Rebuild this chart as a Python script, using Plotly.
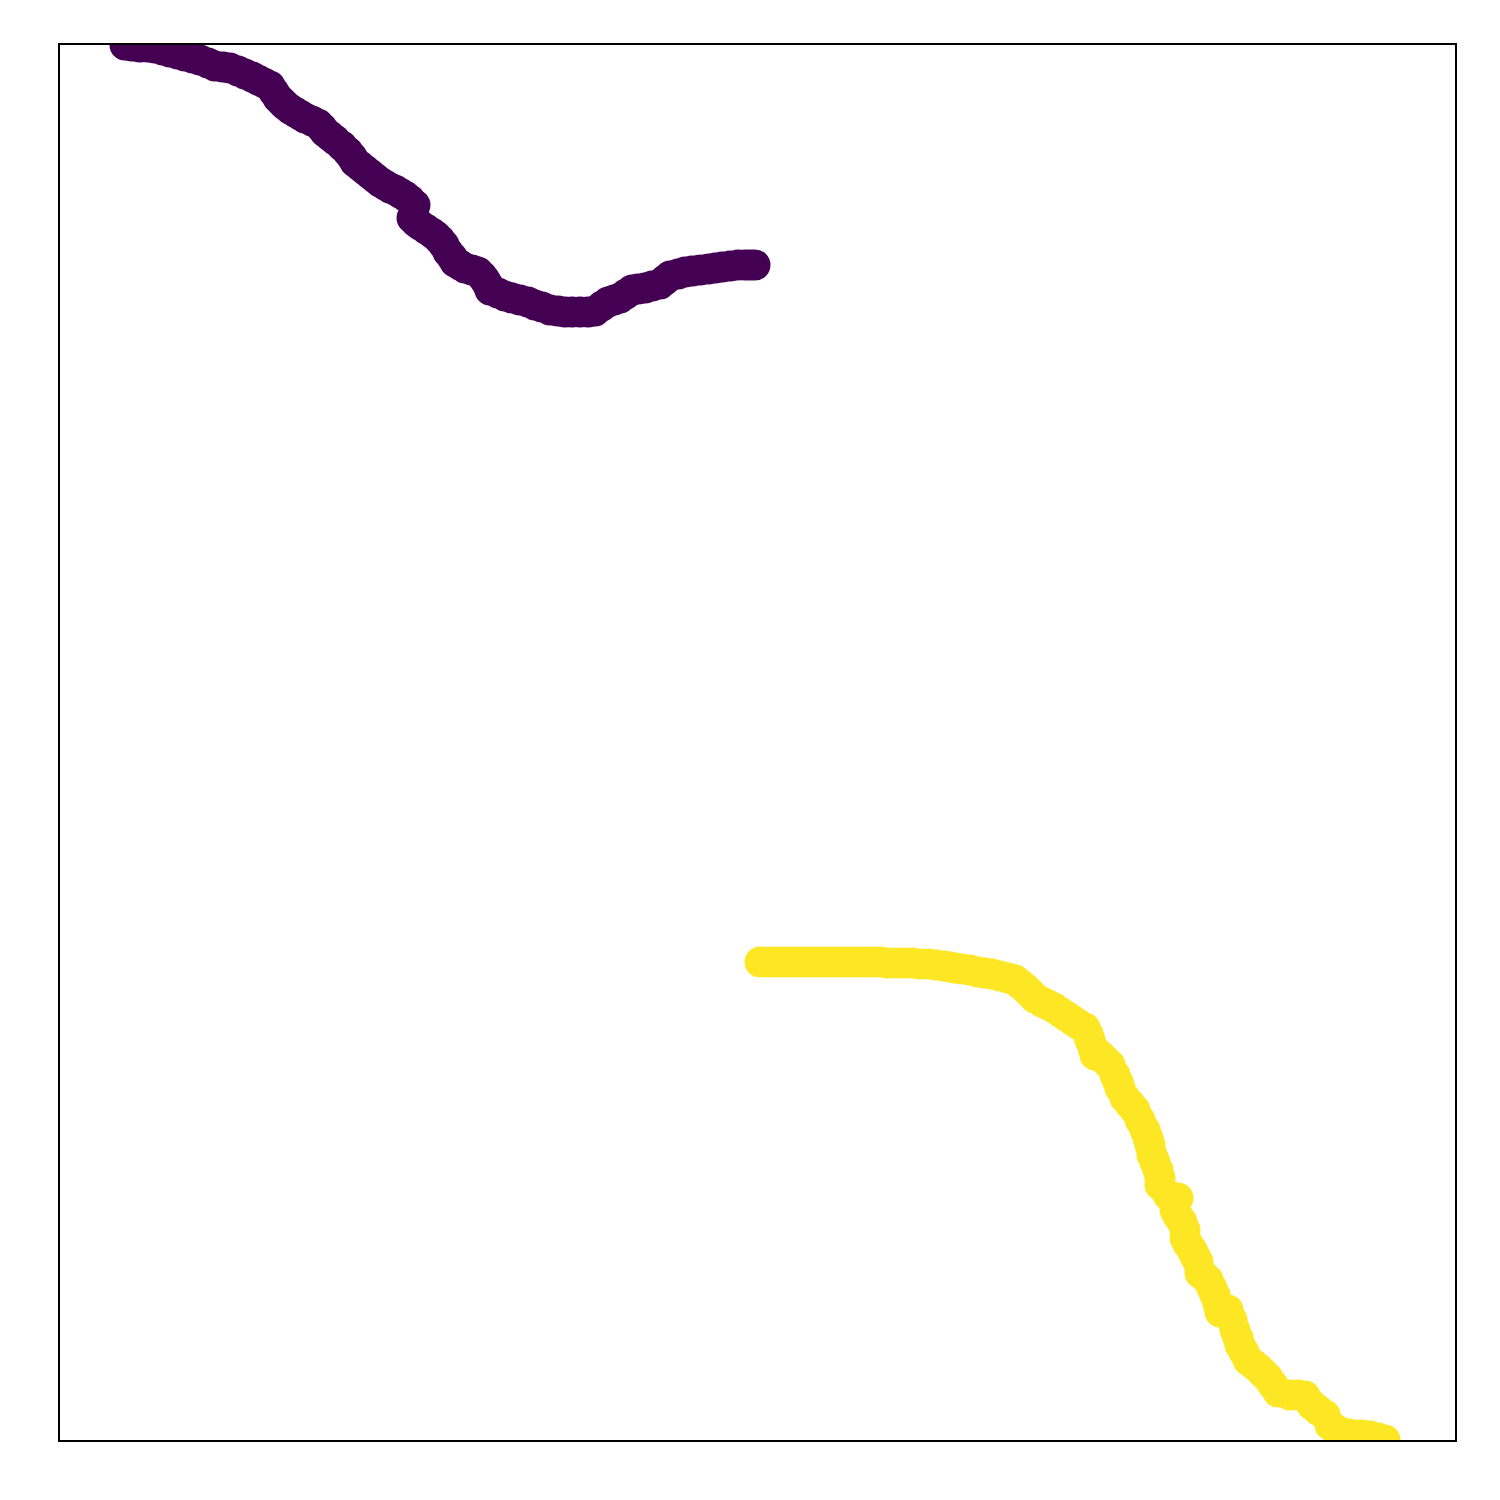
import plotly.graph_objects as go

# Cluster 0 (purple) sample positions in data units (10 values per row, rows aligned)
x0 = [65, 72, 80, 88, 95, 103, 110, 118, 125, 133,
      140, 148, 155, 163, 170, 178, 185, 192, 198, 204,
      210, 214, 218, 222, 225, 230, 235, 240, 245, 252,
      258, 262, 265, 270, 275, 282, 288, 292, 295, 300,
      305, 310, 315, 320, 325, 330, 335, 340, 345, 350,
      355, 352, 356, 360, 366, 372, 376, 380, 384, 388,
      392, 395, 400, 405, 412, 418, 422, 425, 428, 430,
      438, 445, 452, 460, 468, 475, 482, 490, 498, 505,
      512, 520, 528, 535, 542, 548, 554, 560, 566, 572,
      578, 585, 592, 600, 605, 610, 618, 625, 632, 640,
      648, 655, 662, 670, 678, 685, 690, 695]
y0 = [1395, 1394, 1393, 1393, 1392, 1390, 1388, 1386, 1384, 1382,
      1380, 1377, 1374, 1373, 1372, 1369, 1366, 1363, 1360, 1357,
      1354, 1348, 1342, 1338, 1335, 1331, 1328, 1325, 1322, 1319,
      1316, 1312, 1308, 1304, 1300, 1294, 1288, 1283, 1278, 1274,
      1270, 1266, 1262, 1258, 1255, 1252, 1250, 1247, 1244, 1240,
      1235, 1222, 1218, 1215, 1211, 1207, 1204, 1200, 1195, 1188,
      1183, 1178, 1175, 1172, 1170, 1168, 1164, 1160, 1155, 1150,
      1147, 1144, 1142, 1140, 1138, 1135, 1133, 1130, 1129, 1128,
      1128, 1128, 1128, 1129, 1134, 1138, 1140, 1142, 1146, 1150,
      1151, 1152, 1154, 1156, 1160, 1164, 1166, 1168, 1169, 1170,
      1171, 1172, 1173, 1174, 1175, 1175, 1175, 1175]

# Cluster 1 (yellow) sample positions in data units (10 values per row, rows aligned)
x1 = [700, 708, 716, 724, 732, 740, 748, 756, 764, 772,
      780, 788, 796, 804, 812, 820, 828, 836, 844, 852,
      860, 868, 876, 884, 890, 895, 902, 910, 918, 925,
      932, 940, 948, 955, 960, 965, 970, 975, 982, 988,
      994, 1000, 1006, 1012, 1018, 1025, 1028, 1030, 1033, 1035,
      1040, 1045, 1050, 1055, 1058, 1060, 1065, 1070, 1075, 1080,
      1085, 1088, 1090, 1092, 1095, 1098, 1100, 1100, 1108, 1118,
      1115, 1118, 1122, 1125, 1125, 1128, 1132, 1135, 1138, 1140,
      1144, 1148, 1152, 1155, 1158, 1160, 1168, 1172, 1175, 1178,
      1180, 1184, 1188, 1193, 1198, 1203, 1208, 1213, 1218, 1230,
      1238, 1245, 1252, 1258, 1265, 1270, 1275, 1280, 1288, 1295,
      1302, 1310, 1318, 1325]
y1 = [478, 478, 478, 478, 478, 478, 478, 478, 478, 478,
      478, 478, 478, 478, 478, 478, 477, 477, 477, 477,
      476, 476, 475, 474, 473, 472, 471, 470, 468, 467,
      466, 464, 462, 460, 456, 452, 447, 442, 438, 435,
      432, 428, 424, 420, 416, 412, 406, 400, 392, 385,
      385, 380, 375, 365, 358, 352, 342, 336, 330, 320,
      310, 302, 295, 285, 278, 270, 262, 255, 245, 242,
      230, 224, 218, 210, 202, 196, 190, 184, 178, 167,
      164, 160, 152, 145, 136, 128, 130, 120, 110, 102,
      95, 88, 80, 76, 72, 67, 62, 55, 48, 45,
      45, 44, 35, 30, 25, 15, 11, 8, 6, 5,
      5, 4, 2, 0]

fig = go.Figure()
fig.add_trace(go.Scatter(x=x0, y=y0, mode="markers",
                         marker=dict(size=31, color="#440154", line=dict(width=0)),
                         showlegend=False))
fig.add_trace(go.Scatter(x=x1, y=y1, mode="markers",
                         marker=dict(size=31, color="#fde725", line=dict(width=0)),
                         showlegend=False))

axis_style = dict(showgrid=False, zeroline=False, showticklabels=False, ticks="",
                  showline=True, mirror=True, linecolor="black", linewidth=2)
fig.update_xaxes(range=[0, 1395], **axis_style)
fig.update_yaxes(range=[0, 1395], **axis_style)
fig.update_layout(width=1500, height=1500, plot_bgcolor="white", paper_bgcolor="white",
                  margin=dict(l=60, r=45, t=45, b=60))
fig.write_html("out.html")
